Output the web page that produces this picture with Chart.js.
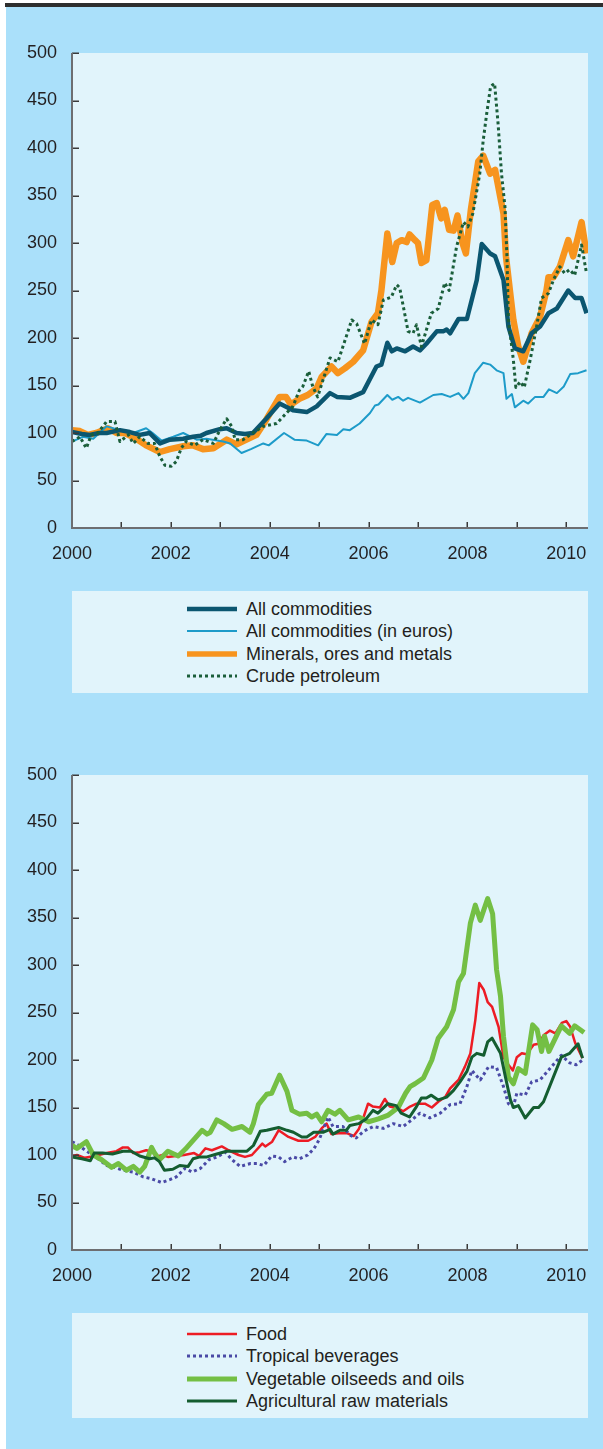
<!DOCTYPE html>
<html>
<head>
<meta charset="utf-8">
<script src="https://cdn.jsdelivr.net/npm/chart.js@4.4.1/dist/chart.umd.min.js"></script>
<style>
    body { margin: 0; background: #ffffff; font-family: "Liberation Sans", Arial, sans-serif; }
    #page { position: absolute; left: 6px; top: 7px; width: 597px; height: 1442px; background: #aae0fa; }
    #bar { position: absolute; left: 5px; top: 3px; width: 598px; height: 4px; background: #2e2e2e; }
    canvas { position: absolute; left: 0; }
    .legend-panel { position: absolute; left: 72px; width: 516px; background: #e1f4fb; }
    .legend-item { position: absolute; left: 115px; height: 20px; white-space: nowrap; }
    .legend-item svg { position: absolute; left: 0; top: 6px; }
    .legend-item span { position: absolute; left: 59px; top: 0; font-size: 18px; line-height: 20px; color: #231f20; }
</style>
</head>
<body>
<div id="page"></div>
<div id="bar"></div>
<canvas id="chartTop" width="603" height="580" style="top:0px"></canvas>
<div class="legend-panel" id="legendTop" style="top:591px;height:102px"></div>
<canvas id="chartBottom" width="603" height="580" style="top:722px"></canvas>
<div class="legend-panel" id="legendBottom" style="top:1313px;height:105px"></div>

<script>
// Values: [year, index 2000 = 100]
    const allCommodities = [[2000.0,101],[2000.2,99],[2000.36,98],[2000.55,100],[2000.7,100],[2000.97,103],[2001.17,101],[2001.37,98],[2001.57,100],[2001.78,89],[2001.98,93],[2002.25,94],[2002.45,96],[2002.6,97],[2002.72,100],[2002.99,104],[2003.13,105],[2003.33,100],[2003.5,99],[2003.66,100],[2003.93,115],[2004.2,131],[2004.47,124],[2004.75,122],[2004.95,128],[2005.22,142],[2005.36,138],[2005.62,137],[2005.89,143],[2006.16,170],[2006.26,172],[2006.38,195],[2006.47,186],[2006.57,189],[2006.74,186],[2006.9,191],[2007.04,187],[2007.17,194],[2007.38,207],[2007.51,207],[2007.58,209],[2007.65,205],[2007.82,220],[2007.99,220],[2008.19,261],[2008.29,299],[2008.46,289],[2008.56,286],[2008.73,261],[2008.83,212],[2008.96,189],[2009.13,186],[2009.3,205],[2009.47,212],[2009.64,226],[2009.81,231],[2010.04,250],[2010.18,242],[2010.31,242],[2010.41,226]];
    const allCommoditiesEuro = [[2000.0,91],[2000.22,96],[2000.43,94],[2000.7,107],[2000.97,103],[2001.24,100],[2001.5,105],[2001.63,100],[2001.81,92],[2002.05,96],[2002.25,100],[2002.52,93],[2002.72,94],[2003.06,91],[2003.2,89],[2003.43,79],[2003.62,83],[2003.87,89],[2003.98,87],[2004.29,100],[2004.5,93],[2004.75,92],[2004.98,87],[2005.15,99],[2005.36,98],[2005.49,104],[2005.62,103],[2005.82,110],[2006.03,121],[2006.13,129],[2006.2,130],[2006.38,140],[2006.48,135],[2006.6,138],[2006.7,134],[2006.8,137],[2007.04,132],[2007.31,140],[2007.48,141],[2007.65,138],[2007.82,142],[2007.92,136],[2008.02,142],[2008.15,163],[2008.32,174],[2008.46,172],[2008.59,166],[2008.73,163],[2008.79,136],[2008.9,141],[2008.96,127],[2009.13,134],[2009.23,131],[2009.37,138],[2009.54,138],[2009.65,146],[2009.81,142],[2009.95,149],[2010.08,162],[2010.24,163],[2010.41,166]];
    const minerals = [[2000.0,103],[2000.16,102],[2000.32,98],[2000.49,100],[2000.73,105],[2000.9,100],[2001.07,100],[2001.3,94],[2001.5,87],[2001.78,80],[2001.98,83],[2002.25,86],[2002.45,87],[2002.65,83],[2002.86,84],[2003.13,93],[2003.33,88],[2003.53,93],[2003.73,98],[2003.93,114],[2004.2,138],[2004.33,138],[2004.43,130],[2004.6,136],[2004.77,140],[2004.95,147],[2005.05,159],[2005.25,170],[2005.38,163],[2005.52,168],[2005.69,175],[2005.89,187],[2006.06,217],[2006.19,226],[2006.26,250],[2006.38,310],[2006.48,280],[2006.57,300],[2006.67,303],[2006.77,301],[2006.83,309],[2006.94,303],[2007.0,300],[2007.07,279],[2007.17,282],[2007.29,340],[2007.38,342],[2007.47,326],[2007.54,335],[2007.63,314],[2007.72,313],[2007.8,329],[2007.9,300],[2007.97,289],[2008.07,335],[2008.22,386],[2008.32,392],[2008.46,373],[2008.56,377],[2008.73,331],[2008.78,286],[2008.86,250],[2008.93,219],[2009.03,191],[2009.13,175],[2009.3,205],[2009.47,222],[2009.6,250],[2009.64,264],[2009.74,264],[2009.87,275],[2010.04,303],[2010.14,286],[2010.31,322],[2010.41,289]];
    const crudePetroleum = [[2000.0,91],[2000.16,96],[2000.29,84],[2000.39,98],[2000.52,100],[2000.7,112],[2000.87,112],[2000.97,91],[2001.14,98],[2001.24,89],[2001.37,96],[2001.54,89],[2001.67,89],[2001.78,75],[2001.88,66],[2002.01,65],[2002.11,70],[2002.21,84],[2002.31,91],[2002.48,87],[2002.65,93],[2002.86,89],[2002.99,103],[2003.13,115],[2003.23,107],[2003.3,93],[2003.46,93],[2003.66,100],[2003.87,107],[2004.14,110],[2004.34,121],[2004.47,128],[2004.6,145],[2004.67,149],[2004.79,165],[2004.87,149],[2004.97,138],[2005.22,179],[2005.38,175],[2005.66,219],[2005.76,215],[2005.92,194],[2006.06,219],[2006.19,214],[2006.3,240],[2006.46,243],[2006.57,256],[2006.63,253],[2006.8,207],[2006.9,205],[2006.97,214],[2007.07,191],[2007.27,226],[2007.41,231],[2007.54,258],[2007.63,250],[2007.68,265],[2007.78,296],[2007.92,322],[2008.01,317],[2008.11,331],[2008.25,373],[2008.32,408],[2008.39,436],[2008.47,465],[2008.55,468],[2008.62,426],[2008.69,373],[2008.76,338],[2008.8,286],[2008.83,219],[2008.93,177],[2008.98,148],[2009.07,154],[2009.15,148],[2009.27,177],[2009.4,212],[2009.5,242],[2009.64,247],[2009.74,261],[2009.87,275],[2009.97,268],[2010.07,272],[2010.17,266],[2010.31,298],[2010.41,268]];

    const food = [[2000.0,99],[2000.1,100],[2000.26,97],[2000.46,99],[2000.7,102],[2000.9,104],[2001.03,108],[2001.13,108],[2001.24,102],[2001.37,103],[2001.5,105],[2001.62,104],[2001.7,98],[2001.83,100],[2001.94,98],[2002.1,99],[2002.27,100],[2002.47,102],[2002.57,99],[2002.7,107],[2002.83,105],[2003.03,109],[2003.17,105],[2003.37,100],[2003.5,98],[2003.64,100],[2003.85,112],[2003.91,109],[2004.05,114],[2004.18,126],[2004.38,119],[2004.58,115],[2004.78,115],[2004.92,119],[2005.05,128],[2005.15,133],[2005.25,122],[2005.39,123],[2005.56,123],[2005.7,120],[2005.8,127],[2005.9,140],[2005.99,154],[2006.09,151],[2006.23,150],[2006.33,159],[2006.43,151],[2006.6,149],[2006.7,146],[2006.84,151],[2006.97,154],[2007.14,154],[2007.28,150],[2007.41,156],[2007.55,161],[2007.65,170],[2007.82,179],[2007.95,193],[2008.06,207],[2008.16,242],[2008.24,281],[2008.33,274],[2008.41,261],[2008.5,256],[2008.63,235],[2008.73,203],[2008.83,195],[2008.92,189],[2009.0,203],[2009.1,207],[2009.2,206],[2009.34,216],[2009.44,217],[2009.54,226],[2009.67,231],[2009.78,228],[2009.91,239],[2010.0,241],[2010.08,235],[2010.18,218],[2010.33,202]];
    const tropicalBeverages = [[2000.0,114],[2000.14,110],[2000.27,105],[2000.48,98],[2000.7,89],[2000.86,87],[2001.03,84],[2001.24,82],[2001.44,77],[2001.61,75],[2001.81,71],[2001.98,74],[2002.11,77],[2002.29,86],[2002.43,82],[2002.6,86],[2002.77,95],[2002.94,98],[2003.1,103],[2003.24,95],[2003.4,88],[2003.61,91],[2003.74,91],[2003.88,89],[2004.04,99],[2004.18,98],[2004.3,93],[2004.47,98],[2004.6,96],[2004.77,100],[2004.9,107],[2005.0,116],[2005.18,140],[2005.28,130],[2005.48,130],[2005.62,121],[2005.75,118],[2005.9,125],[2006.1,130],[2006.3,128],[2006.5,133],[2006.7,130],[2006.9,138],[2007.04,144],[2007.24,139],[2007.45,144],[2007.65,153],[2007.85,154],[2007.99,172],[2008.09,189],[2008.26,179],[2008.43,193],[2008.59,192],[2008.73,172],[2008.83,154],[2008.93,151],[2009.0,165],[2009.17,163],[2009.3,177],[2009.47,179],[2009.67,191],[2009.9,205],[2010.07,197],[2010.2,195],[2010.33,200]];
    const vegetableOils = [[2000.0,110],[2000.1,107],[2000.29,114],[2000.43,100],[2000.6,95],[2000.8,87],[2000.94,91],[2001.1,84],[2001.24,88],[2001.37,82],[2001.47,88],[2001.61,108],[2001.67,102],[2001.77,95],[2001.94,104],[2002.15,99],[2002.29,106],[2002.46,116],[2002.63,126],[2002.73,122],[2002.8,124],[2002.93,137],[2003.07,133],[2003.24,127],[2003.44,130],[2003.6,124],[2003.67,133],[2003.77,153],[2003.94,164],[2004.04,165],[2004.2,184],[2004.35,167],[2004.45,147],[2004.6,143],[2004.75,144],[2004.85,140],[2004.95,143],[2005.05,135],[2005.18,147],[2005.32,143],[2005.42,147],[2005.59,137],[2005.8,140],[2006.0,135],[2006.2,138],[2006.4,142],[2006.6,150],[2006.75,165],[2006.84,172],[2006.94,175],[2007.11,181],[2007.28,200],[2007.41,223],[2007.58,235],[2007.72,253],[2007.82,282],[2007.92,291],[2008.06,344],[2008.16,363],[2008.26,347],[2008.41,370],[2008.51,354],[2008.59,295],[2008.67,267],[2008.73,225],[2008.83,182],[2008.93,175],[2009.03,191],[2009.17,186],[2009.32,237],[2009.41,232],[2009.5,209],[2009.56,225],[2009.65,209],[2009.9,236],[2010.07,228],[2010.17,236],[2010.36,229]];
    const agriculturalRaw = [[2000.0,98],[2000.2,96],[2000.37,94],[2000.45,102],[2000.62,102],[2000.82,101],[2001.03,104],[2001.2,104],[2001.37,99],[2001.57,96],[2001.67,97],[2001.77,93],[2001.87,84],[2002.04,85],[2002.18,89],[2002.35,88],[2002.45,96],[2002.59,98],[2002.73,98],[2002.93,101],[2003.13,104],[2003.34,104],[2003.54,104],[2003.67,110],[2003.81,125],[2003.94,126],[2004.18,129],[2004.35,126],[2004.48,124],[2004.65,119],[2004.75,119],[2004.89,124],[2005.09,124],[2005.22,127],[2005.28,122],[2005.42,126],[2005.55,126],[2005.62,131],[2005.8,133],[2005.95,138],[2006.09,147],[2006.19,144],[2006.39,154],[2006.56,152],[2006.66,144],[2006.83,140],[2006.97,151],[2007.07,160],[2007.17,160],[2007.27,163],[2007.41,158],[2007.58,161],[2007.72,168],[2007.85,177],[2007.99,188],[2008.09,203],[2008.19,207],[2008.33,205],[2008.41,219],[2008.5,223],[2008.67,207],[2008.77,182],[2008.87,158],[2008.93,150],[2009.03,152],[2009.17,139],[2009.34,150],[2009.44,150],[2009.54,156],[2009.9,203],[2010.07,207],[2010.24,217],[2010.33,202]];

// axis settings
    const yTicks = [0, 50, 100, 150, 200, 250, 300, 350, 400, 450, 500];
    const yearLabels = [2000, 2002, 2004, 2006, 2008, 2010];

// setup
    function series(label, points, color, width, dash, order) {
        return {
            label: label,
            data: points.map(p => ({ x: p[0], y: p[1] })),
            borderColor: color,
            backgroundColor: color,
            borderWidth: width,
            borderDash: dash,
            borderCapStyle: 'butt',
            borderJoinStyle: 'round',
            pointRadius: 0,
            tension: 0,
            order: order
        }
    }

    const topSets = [
        series('All commodities', allCommodities, '#0b5670', 4.5, [], 1),
        series('All commodities (in euros)', allCommoditiesEuro, '#1d9bc9', 2, [], 2),
        series('Minerals, ores and metals', minerals, '#f7941e', 6.5, [], 3),
        series('Crude petroleum', crudePetroleum, '#1a5e3a', 3, [3, 3], 0)
    ];
    const bottomSets = [
        series('Food', food, '#ed1c24', 2.5, [], 3),
        series('Tropical beverages', tropicalBeverages, '#4a4aa6', 3, [3, 3], 2),
        series('Vegetable oilseeds and oils', vegetableOils, '#74bf44', 5, [], 1),
        series('Agricultural raw materials', agriculturalRaw, '#145d30', 3, [], 0)
    ];

// plot background, axis lines and inside tick marks
    const frame = {
        id: 'frame',
        beforeDraw(chart) {
            const { ctx, chartArea: a } = chart;
            ctx.save();
            ctx.fillStyle = '#e1f4fb';
            ctx.fillRect(a.left, a.top, a.right - a.left, a.bottom - a.top);
            ctx.restore();
        },
        afterDraw(chart) {
            const { ctx, chartArea: a, scales } = chart;
            ctx.save();
            ctx.strokeStyle = '#3a3a3a';
            ctx.lineWidth = 1.5;
            yTicks.forEach(v => {
                const py = Math.round(scales.y.getPixelForValue(v)) + 0.25;
                ctx.beginPath();
                ctx.moveTo(a.left, py);
                ctx.lineTo(a.left + 7, py);
                ctx.stroke();
            });
            for (let yr = 2000; yr <= 2010; yr++) {
                const px = Math.round(scales.x.getPixelForValue(yr)) + 0.25;
                ctx.beginPath();
                ctx.moveTo(px, a.bottom);
                ctx.lineTo(px, a.bottom - 6);
                ctx.stroke();
            }
            ctx.strokeStyle = '#6d6e71';
            ctx.lineWidth = 2;
            ctx.beginPath();
            ctx.moveTo(a.left, a.top);
            ctx.lineTo(a.left, a.bottom);
            ctx.lineTo(a.right, a.bottom);
            ctx.stroke();
            ctx.restore();
        }
    };

// config
    function makeConfig(datasets) {
        return {
            type: 'line',
            data: { datasets },
            options: {
                responsive: false,
                animation: false,
                events: [],
                layout: { padding: { top: 53, right: 15, bottom: 0, left: 0 } },
                plugins: { legend: { display: false }, tooltip: { enabled: false } },
                scales: {
                    x: {
                        type: 'linear',
                        min: 2000,
                        max: 2010.44,
                        afterFit: s => { s.height = 52 },
                        afterBuildTicks: s => { s.ticks = yearLabels.map(v => ({ value: v })) },
                        grid: { display: false, drawTicks: false },
                        border: { display: false },
                        ticks: {
                            autoSkip: false,
                            maxRotation: 0,
                            padding: 15,
                            color: '#231f20',
                            font: { family: '"Liberation Sans", Arial, sans-serif', size: 18 },
                            callback: v => String(v)
                        }
                    },
                    y: {
                        min: 0,
                        max: 500,
                        afterFit: s => { s.width = 72 },
                        afterBuildTicks: s => { s.ticks = yTicks.map(v => ({ value: v })) },
                        grid: { display: false, drawTicks: false },
                        border: { display: false },
                        ticks: {
                            padding: 15,
                            color: '#231f20',
                            font: { family: '"Liberation Sans", Arial, sans-serif', size: 18 },
                            callback: v => String(v)
                        }
                    }
                }
            },
            plugins: [frame]
        }
    }

// legend boxes under each chart (item positions are inside the panel)
    function buildLegend(boxId, datasets, firstRow) {
        const box = document.getElementById(boxId);
        datasets.forEach((ds, i) => {
            const item = document.createElement('div');
            item.className = 'legend-item';
            item.style.top = (firstRow + i * 22.4 - 10) + 'px';
            const dash = ds.borderDash.length ? ` stroke-dasharray="${ds.borderDash.join(',')}"` : '';
            item.innerHTML = `<svg width="50" height="8"><line x1="0" y1="4" x2="50" y2="4" stroke="${ds.borderColor}" stroke-width="${Math.min(ds.borderWidth, 5.5)}"${dash}/></svg><span>${ds.label}</span>`;
            box.appendChild(item);
        });
    }

// render init block
    const topChart = new Chart(document.getElementById('chartTop'), makeConfig(topSets));
    const bottomChart = new Chart(document.getElementById('chartBottom'), makeConfig(bottomSets));
    buildLegend('legendTop', topSets, 18);
    buildLegend('legendBottom', bottomSets, 21);
</script>
</body>
</html>
